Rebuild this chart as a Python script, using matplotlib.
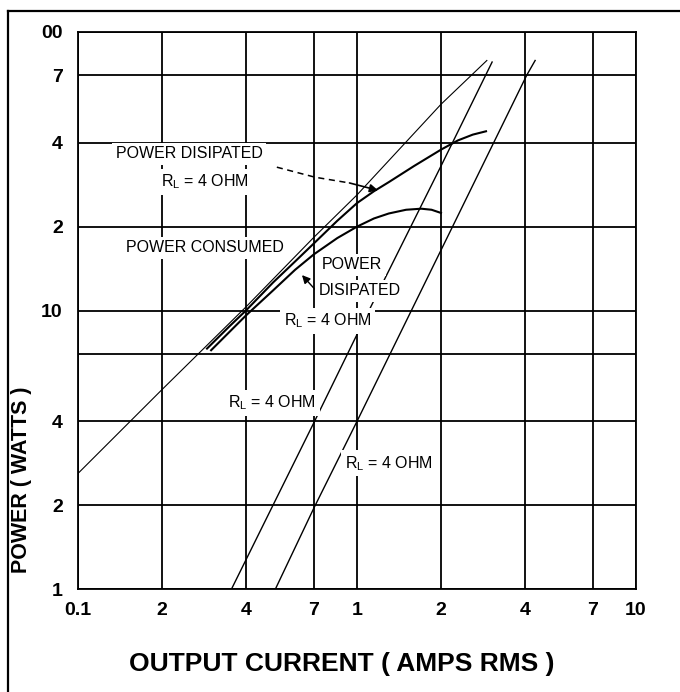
import matplotlib.pyplot as plt
from matplotlib.lines import Line2D

plt.rcParams['font.family'] = ['Liberation Sans', 'DejaVu Sans']
plt.rcParams['mathtext.fontset'] = 'custom'
plt.rcParams['mathtext.rm'] = 'Liberation Sans'

# Values (log-log).
xTicks = [0.1, 0.2, 0.4, 0.7, 1, 2, 4, 7, 10]
xTickLabels = ['0.1', '2', '4', '7', '1', '2', '4', '7', '10']
yTicks = [1, 2, 4, 7, 10, 20, 40, 70, 100]
yTickLabels = ['1', '2', '4', '', '10', '2', '4', '7', '00']

# Power consumed
consumedI = [0.1, 0.2, 0.4, 0.7, 1.0, 2.0, 2.92]
consumedP = [2.6, 5.2, 10.3, 18.3, 26.0, 55.0, 79.0]

# Power dissipated, upper curve
dissUpperI = [0.29, 0.35, 0.4, 0.5, 0.6, 0.7, 0.85, 1.0, 1.15, 1.3,
              1.6, 2.0, 2.3, 2.6, 2.9]
dissUpperP = [7.3, 8.8, 10.0, 12.6, 15.0, 17.4, 21.0, 24.3, 26.8, 28.9,
              33.0, 37.8, 40.8, 42.8, 44.0]

# Power dissipated, lower curve
dissLowerI = [0.3, 0.35, 0.4, 0.5, 0.6, 0.7, 0.85, 1.0, 1.15, 1.3,
              1.5, 1.7, 1.85, 2.0]
dissLowerP = [7.2, 8.4, 9.6, 11.8, 14.0, 15.9, 18.2, 20.0, 21.4, 22.3,
              23.0, 23.2, 23.0, 22.4]

# Load power lines
loadAI = [0.355, 0.5, 0.7, 1.0, 2.0, 3.05]
loadAP = [1.0, 2.0, 3.95, 8.2, 33.0, 78.0]
loadBI = [0.51, 0.7, 1.0, 2.2, 4.06, 4.35]
loadBP = [1.0, 1.95, 4.0, 20.0, 70.0, 79.0]


def plot_chart():
    fig = plt.figure(figsize=(6.8, 6.92), dpi=100)
    ax = fig.add_axes([0.1147, 0.1488, 0.8206, 0.8050])

    ax.set_xscale('log')
    ax.set_yscale('log')
    ax.set_xlim(0.1, 10)
    ax.set_ylim(1, 100)

    ax.set_xticks(xTicks)
    ax.set_xticklabels(xTickLabels)
    ax.set_yticks(yTicks)
    ax.set_yticklabels(yTickLabels)
    ax.minorticks_off()
    ax.tick_params(length=0, labelsize=14)
    ax.tick_params(axis='x', pad=9)
    ax.tick_params(axis='y', pad=11)
    for lbl in ax.get_xticklabels() + ax.get_yticklabels():
        lbl.set_fontweight('bold')

    ax.set_axisbelow(True)
    ax.grid(True, which='major', color='black', linewidth=1.3)
    for s in ax.spines.values():
        s.set_linewidth(1.3)
        s.set_color('black')

    # Curves
    ax.plot(consumedI, consumedP, color='black', lw=0.8, zorder=3)
    ax.plot(dissUpperI, dissUpperP, color='black', lw=1.5, zorder=3)
    ax.plot(dissLowerI, dissLowerP, color='black', lw=1.5, zorder=3)
    ax.plot(loadAI, loadAP, color='black', lw=1.0, zorder=3)
    ax.plot(loadBI, loadBP, color='black', lw=1.0, zorder=3)

    # Labels with white background
    box = dict(facecolor='white', edgecolor='none', pad=2.5)
    txt = dict(fontsize=11.5, ha='center', va='center', zorder=5, bbox=box)
    ax.text(0.25, 36.5, 'POWER DISIPATED', **txt)
    ax.text(0.285, 28.9, r'R$_{\mathrm{L}}$ = 4 OHM', **txt)
    ax.text(0.285, 16.8, 'POWER CONSUMED', **txt)
    ax.text(0.96, 14.6, 'POWER', **txt)
    ax.text(1.024, 11.75, 'DISIPATED', **txt)
    ax.text(0.787, 9.17, r'R$_{\mathrm{L}}$ = 4 OHM', **txt)
    ax.text(0.496, 4.66, r'R$_{\mathrm{L}}$ = 4 OHM', **txt)
    ax.text(1.30, 2.83, r'R$_{\mathrm{L}}$ = 4 OHM', **txt)

    # Leaders
    ax.plot([0.516, 0.707, 0.94], [32.7, 30.1, 28.7], color='black',
            lw=1.1, dashes=(4, 3), zorder=4)
    ax.annotate('', xy=(1.19, 27.0), xytext=(0.94, 28.7),
                arrowprops=dict(arrowstyle='-|>', color='black', lw=1.2,
                                mutation_scale=12, shrinkA=0, shrinkB=0),
                zorder=4)
    ax.annotate('', xy=(0.635, 13.4), xytext=(0.724, 11.6),
                arrowprops=dict(arrowstyle='-|>', color='black', lw=1.0,
                                mutation_scale=12, shrinkA=0, shrinkB=0),
                zorder=4)

    # Axis titles
    fig.text(342 / 680, 1 - 664 / 692, 'OUTPUT CURRENT ( AMPS RMS )',
             fontsize=19, fontweight='bold', ha='center', va='center')
    fig.text(22 / 680, 1 - 480 / 692, 'POWER ( WATTS )', rotation=90,
             fontsize=15.5, fontweight='bold', ha='center', va='center')

    # Outer frame (left and top edges)
    fig.add_artist(Line2D([8 / 680, 8 / 680], [0, 1 - 11 / 692],
                          color='black', lw=1.6, transform=fig.transFigure))
    fig.add_artist(Line2D([8 / 680, 1], [1 - 11 / 692, 1 - 11 / 692],
                          color='black', lw=1.6, transform=fig.transFigure))

    fig.savefig('out.png', dpi=100)


def main():
    plot_chart()


if __name__ == '__main__':
    main()
